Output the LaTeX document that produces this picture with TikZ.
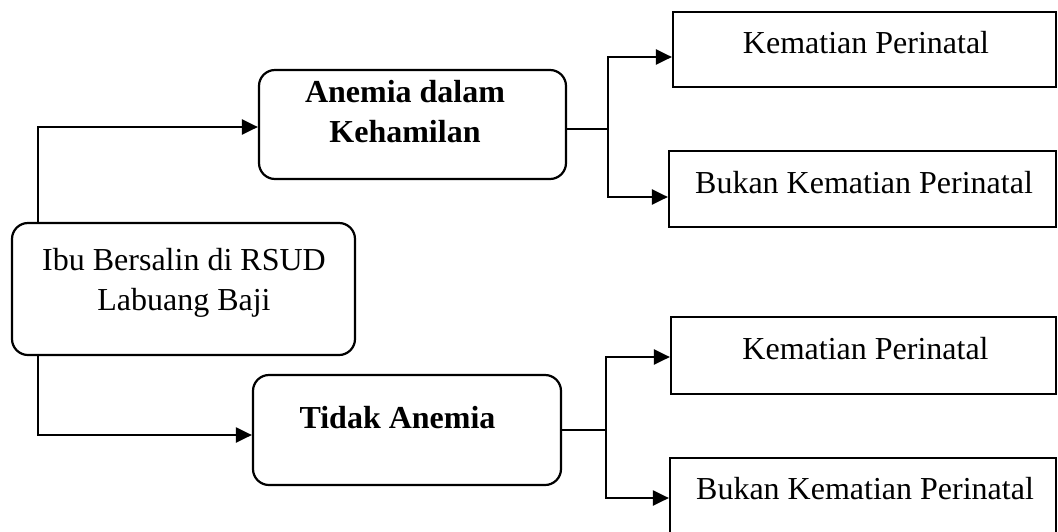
\documentclass[tikz,border=0pt]{standalone}
\usepackage{fontspec}
\setmainfont{Liberation Serif}
\usetikzlibrary{arrows.meta}
\begin{document}
\begin{tikzpicture}[x=1pt,y=-1pt,
  every node/.style={font=\fontsize{32}{40}\selectfont},
  rbox/.style={draw, line width=2.2pt, rounded corners=16pt, inner sep=0pt},
  sbox/.style={draw, line width=2.2pt, inner sep=0pt},
  txt/.style={anchor=base, align=center, inner sep=0pt},
  conn/.style={line width=2.2pt},
  arr/.style={line width=2.2pt, -{Triangle[length=16pt,width=15pt]}}]
\useasboundingbox (0,0) rectangle (1058,531);
\fill[white] (0,0) rectangle (1058,531);
\clip (0,0) rectangle (1058,531);
% boxes
\node[rbox, minimum width=343pt, minimum height=132pt] (root) at (183.5,289) {};
\node[rbox, minimum width=307pt, minimum height=109pt] (A) at (412.5,124.5) {};
\node[rbox, minimum width=308pt, minimum height=110pt] (T) at (407,430) {};
\node[sbox, minimum width=383pt, minimum height=75pt] (KP1) at (864.5,49.5) {};
\node[sbox, minimum width=387pt, minimum height=76pt] (BKP1) at (862.5,189) {};
\node[sbox, minimum width=385pt, minimum height=77pt] (KP2) at (863.5,355.5) {};
\node[sbox, minimum width=386pt, minimum height=76pt] (BKP2) at (863,496) {};
% texts (multi-line nodes: base anchor is the last line's baseline)
\node[txt] (rootT) at (184,310) {Ibu Bersalin di RSUD\\Labuang Baji};
\node[txt, font=\fontsize{32}{40}\selectfont\bfseries] (AT) at (405,142) {Anemia dalam\\Kehamilan};
\node[txt, font=\fontsize{32}{40}\selectfont\bfseries] (TT) at (397.5,428) {Tidak Anemia};
\node[txt] (KP1T) at (866,53) {Kematian Perinatal};
\node[txt] (BKP1T) at (864,193) {Bukan Kematian Perinatal};
\node[txt] (KP2T) at (865.5,359) {Kematian Perinatal};
\node[txt] (BKP2T) at (865,499) {Bukan Kematian Perinatal};
% connectors
\coordinate (lx) at (38,0);
\coordinate (b1) at (608,129);
\coordinate (b2) at (606,430);
\draw[arr] (root.north -| lx) |- ([yshift=-2.5pt]A.west);
\draw[arr] (root.south -| lx) |- ([yshift=-5pt]T.west);
\draw[conn] ([yshift=-4.5pt]A.east) -- (b1);
\draw[arr] (b1) |- ([yshift=-7.5pt]KP1.west);
\draw[arr] (b1) |- ([yshift=-8pt]BKP1.west);
\draw[conn] (T.east) -- (b2);
\draw[arr] (b2) |- ([yshift=-1.5pt]KP2.west);
\draw[arr] (b2) |- ([yshift=-2pt]BKP2.west);
\end{tikzpicture}
\end{document}
